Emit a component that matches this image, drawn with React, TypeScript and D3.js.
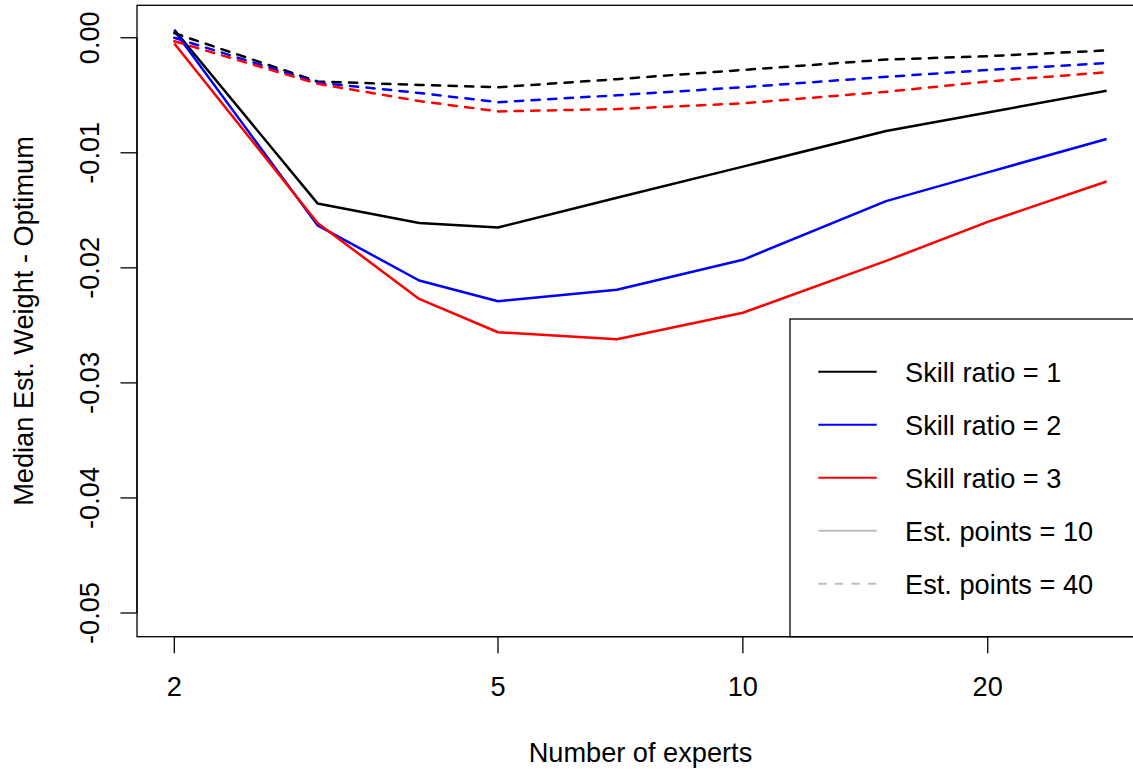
import React from "react";
import * as d3 from "d3";

// ---- data ----
const experts = [2, 3, 4, 5, 7, 10, 15, 20, 28];

// Est. points = 10 (solid)
const skill1_est10 = [0.0007, -0.0144, -0.0161, -0.0165, -0.0139, -0.0112, -0.0081, -0.0065, -0.0046];
const skill2_est10 = [0.0006, -0.0163, -0.0211, -0.0229, -0.0219, -0.0193, -0.0142, -0.0117, -0.0088];
const skill3_est10 = [-0.0005, -0.0161, -0.0227, -0.0256, -0.0262, -0.0239, -0.0194, -0.0160, -0.0125];

// Est. points = 40 (dashed)
const skill1_est40 = [0.0004, -0.0038, -0.0041, -0.0043, -0.0036, -0.0028, -0.0019, -0.0016, -0.0011];
const skill2_est40 = [0.0000, -0.0039, -0.0048, -0.0056, -0.0050, -0.0043, -0.0034, -0.0028, -0.0022];
const skill3_est40 = [-0.0003, -0.0040, -0.0055, -0.0064, -0.0062, -0.0057, -0.0047, -0.0038, -0.0030];

const xTicks = [2, 5, 10, 20];
const yTicks = [0, -0.01, -0.02, -0.03, -0.04, -0.05];

const legendLabels = ["Skill ratio = 1", "Skill ratio = 2", "Skill ratio = 3", "Est. points = 10", "Est. points = 40"];
const legendColors = ["#000000", "#0000FF", "#FF0000", "#BEBEBE", "#BEBEBE"];
const legendDashed = [false, false, false, false, true];

const series = [
  { values: skill1_est10, color: "#000000", dashed: false },
  { values: skill2_est10, color: "#0000FF", dashed: false },
  { values: skill3_est10, color: "#FF0000", dashed: false },
  { values: skill1_est40, color: "#000000", dashed: true },
  { values: skill2_est40, color: "#0000FF", dashed: true },
  { values: skill3_est40, color: "#FF0000", dashed: true },
];

const W = 1133;
const H = 769;
const FONT = "'Liberation Sans', Arial, Helvetica, sans-serif";
const FS = 27.2;

export default function App() {
  const plotLeft = 137;
  const plotTop = 5.3;
  const plotBottom = 636.7;
  const dataLeft = 174.3;
  const dataRight = 1106.6;
  const plotRight = dataRight + (dataRight - dataLeft) * 0.04;

  const x = d3.scaleLog().domain([2, 28]).range([dataLeft, dataRight]);
  const y = d3.scaleLinear().domain([-0.05206, 0.00282]).range([plotBottom, plotTop]);

  const line = d3
    .line<number>()
    .x((_, i) => x(experts[i]))
    .y((d) => y(d));

  const tickLen = 16.5;
  const legX = 790;
  const legY = 319;
  const legRowY = (i: number) => 371.7 + i * 53;

  return (
    <svg
      width={W}
      height={H}
      style={{ position: "absolute", left: 0, top: 0, background: "#fff" }}
      fontFamily={FONT}
    >
      <rect x={0} y={0} width={W} height={H} fill="#fff" />
      <defs>
        <clipPath id="plotclip">
          <rect x={plotLeft} y={plotTop} width={plotRight - plotLeft} height={plotBottom - plotTop} />
        </clipPath>
      </defs>

      {/* series */}
      <g clipPath="url(#plotclip)">
        {series.map((s, i) => (
          <path
            key={i}
            d={line(s.values) || ""}
            fill="none"
            stroke={s.color}
            strokeWidth={2.5}
            strokeDasharray={s.dashed ? "8.3 8.3" : undefined}
            strokeLinecap={s.dashed ? "round" : "butt"}
            strokeLinejoin="round"
          />
        ))}
      </g>

      {/* box */}
      <rect
        x={plotLeft}
        y={plotTop}
        width={plotRight - plotLeft}
        height={plotBottom - plotTop}
        fill="none"
        stroke="#000"
        strokeWidth={1.3}
      />

      {/* y axis */}
      <line x1={plotLeft} x2={plotLeft} y1={y(yTicks[0])} y2={y(yTicks[yTicks.length - 1])} stroke="#000" strokeWidth={1.3} />
      {yTicks.map((t) => (
        <g key={t}>
          <line x1={plotLeft - tickLen} x2={plotLeft} y1={y(t)} y2={y(t)} stroke="#000" strokeWidth={1.3} />
          <text
            transform={`translate(99.3,${y(t)}) rotate(-90)`}
            textAnchor="middle"
            fontSize={FS}
            fill="#000"
          >
            {t.toFixed(2).replace("−", "-")}
          </text>
        </g>
      ))}

      {/* x axis */}
      <line x1={x(xTicks[0])} x2={x(xTicks[xTicks.length - 1])} y1={plotBottom} y2={plotBottom} stroke="#000" strokeWidth={1.3} />
      {xTicks.map((t) => (
        <g key={t}>
          <line x1={x(t)} x2={x(t)} y1={plotBottom} y2={plotBottom + tickLen} stroke="#000" strokeWidth={1.3} />
          <text x={x(t)} y={696} textAnchor="middle" fontSize={FS} fill="#000">
            {String(t)}
          </text>
        </g>
      ))}

      {/* axis titles */}
      <text x={(plotLeft + plotRight) / 2} y={762.3} textAnchor="middle" fontSize={FS} fill="#000">
        Number of experts
      </text>
      <text
        transform={`translate(33.3,${(plotTop + plotBottom) / 2}) rotate(-90)`}
        textAnchor="middle"
        fontSize={FS}
        fill="#000"
      >
        Median Est. Weight - Optimum
      </text>

      {/* legend */}
      <rect
        x={legX}
        y={legY}
        width={plotRight - legX}
        height={plotBottom - legY}
        fill="#fff"
        stroke="#000"
        strokeWidth={1.3}
      />
      {legendLabels.map((lab, i) => (
        <g key={lab}>
          <line
            x1={818.3}
            x2={876.7}
            y1={legRowY(i)}
            y2={legRowY(i)}
            stroke={legendColors[i]}
            strokeWidth={2}
            strokeDasharray={legendDashed[i] ? "8.3 8.3" : undefined}
          />
          <text x={905} y={legRowY(i) + 10.6} fontSize={FS} fill="#000">
            {lab}
          </text>
        </g>
      ))}
    </svg>
  );
}
